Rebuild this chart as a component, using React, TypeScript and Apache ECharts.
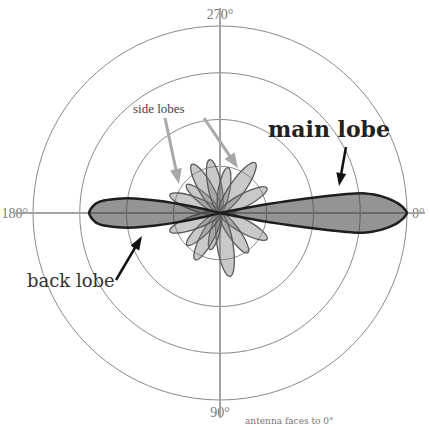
import React, { useEffect, useRef } from 'react';
import * as echarts from 'echarts';

// angle-axis tick values and their labels
const tickAngles = [0, 90, 180, 270];
const tickLabels = ['0°', '90°', '180°', '270°'];

// main lobe (faces 0°): angular offset from 0° -> radius (outer ring = 100)
const mainOffsets = [0, 1, 2, 3, 4, 5, 6, 7, 8, 8.5, 9, 9.5, 10, 10.5, 11, 11.5, 12];
const mainRadii = [100, 99, 97.5, 95.5, 93, 90, 86.5, 82, 76, 68.5, 58, 47, 37, 27, 17, 8, 0];

// back lobe (faces 180°): angular offset from 180° -> radius
const backOffsets = [0, 2, 4, 5, 6, 7, 8, 9, 10, 11, 12, 13, 14, 14.5];
const backRadii = [70, 69, 67, 65.5, 63, 59, 55, 50, 43, 35, 26, 16, 7, 0];

// side lobes: direction (deg) and length
const sideAngles = [200, 220, 240, 259, 280, 305, 332, 29, 55, 81, 105, 118, 136, 160];
const sideRadii = [28.5, 23.4, 30, 29, 24.6, 32.8, 28.4, 28.8, 26, 34.3, 20.3, 28.3, 24.6, 28.5];

function lobePoints(base: number, offsets: number[], radii: number[]) {
  const pts: number[][] = [];
  for (let i = offsets.length - 1; i >= 0; i--) pts.push([radii[i], (base - offsets[i] + 360) % 360]);
  for (let i = 1; i < offsets.length; i++) pts.push([radii[i], (base + offsets[i]) % 360]);
  return pts;
}

const mainPts = lobePoints(0, mainOffsets, mainRadii);
const backPts = lobePoints(180, backOffsets, backRadii);
const sideData = sideAngles.map((a, i) => [sideRadii[i], a]);

function arrow(x1: number, y1: number, x2: number, y2: number, color: string, w: number, hl: number, hw: number) {
  const ang = Math.atan2(y2 - y1, x2 - x1);
  const bx = x2 - hl * Math.cos(ang);
  const by = y2 - hl * Math.sin(ang);
  const px = (-Math.sin(ang) * hw) / 2;
  const py = (Math.cos(ang) * hw) / 2;
  return [
    { type: 'line', z: 10, shape: { x1, y1, x2: bx + (x2 - bx) * 0.3, y2: by + (y2 - by) * 0.3 }, style: { stroke: color, lineWidth: w } },
    { type: 'polygon', z: 10, shape: { points: [[x2, y2], [bx + px, by + py], [bx - px, by - py]] }, style: { fill: color } },
  ];
}

const CENTER = [220, 213];

export default function App() {
  const ref = useRef<HTMLDivElement>(null);
  useEffect(() => {
    const chart = echarts.init(ref.current!, null, { renderer: 'svg' });
    const lobeRender = (pts: number[][]) => (params: any, api: any) => {
      if (params.dataIndex !== 0) return null;
      return {
        type: 'polygon',
        shape: { points: pts.map((p) => api.coord(p)), smooth: 0.15 },
        style: { fill: 'rgba(60,60,60,0.55)', stroke: '#1e1e1e', lineWidth: 2.5 },
      };
    };
    chart.setOption({
      animation: false,
      backgroundColor: '#ffffff',
      polar: [
        { center: CENTER, radius: 187 },
        { center: CENTER, radius: 205 },
      ],
      angleAxis: [
        {
          polarIndex: 0,
          type: 'value',
          min: 0,
          max: 360,
          interval: 90,
          startAngle: 0,
          clockwise: true,
          axisLine: { show: false },
          axisTick: { show: false },
          splitLine: { show: false },
          axisLabel: {
            show: true,
            margin: 5,
            color: '#7a7a7a',
            fontFamily: '"Liberation Serif", serif',
            fontSize: 14,
            formatter: (v: number) => {
              const i = tickAngles.indexOf(v);
              return i >= 0 ? tickLabels[i] : '';
            },
          },
        },
        {
          polarIndex: 1,
          type: 'value',
          min: 0,
          max: 360,
          interval: 90,
          startAngle: 0,
          clockwise: true,
          axisLine: { show: false },
          axisTick: { show: false },
          axisLabel: { show: false },
          splitLine: { show: true, lineStyle: { color: '#a3a3a3', width: 2 } },
        },
      ],
      radiusAxis: [
        {
          polarIndex: 0,
          min: 0,
          max: 100,
          interval: 25,
          axisLine: { show: false },
          axisTick: { show: false },
          axisLabel: { show: false },
          splitLine: { show: true, lineStyle: { color: '#8a8a8a', width: 1 } },
        },
        {
          polarIndex: 1,
          min: 0,
          max: 100,
          axisLine: { show: false },
          axisTick: { show: false },
          axisLabel: { show: false },
          splitLine: { show: false },
        },
      ],
      series: [
        {
          type: 'custom',
          coordinateSystem: 'polar',
          polarIndex: 0,
          data: sideData,
          renderItem: (params: any, api: any) => {
            const r = api.value(0);
            const a = api.value(1);
            const o = api.coord([0, a]);
            const t = api.coord([r, a]);
            const dx = t[0] - o[0];
            const dy = t[1] - o[1];
            const len = Math.hypot(dx, dy);
            return {
              type: 'ellipse',
              x: (o[0] + t[0]) / 2,
              y: (o[1] + t[1]) / 2,
              rotation: -Math.atan2(dy, dx),
              shape: { cx: 0, cy: 0, rx: len / 2, ry: len * 0.125 },
              style: { fill: 'rgba(120,120,120,0.4)', stroke: '#5a5a5a', lineWidth: 1.3 },
            };
          },
        },
        {
          type: 'custom',
          coordinateSystem: 'polar',
          polarIndex: 0,
          data: backPts,
          renderItem: lobeRender(backPts),
        },
        {
          type: 'custom',
          coordinateSystem: 'polar',
          polarIndex: 0,
          data: mainPts,
          renderItem: lobeRender(mainPts),
        },
      ],
      graphic: [
        { type: 'text', z: 10, x: 133, y: 108, style: { text: 'side lobes', fill: '#444', font: '13px "Liberation Serif"', verticalAlign: 'middle' } },
        { type: 'text', z: 10, x: 268, y: 129, style: { text: 'main lobe', fill: '#222', font: 'bold 22px "DejaVu Serif"', verticalAlign: 'middle' } },
        { type: 'text', z: 10, x: 27, y: 280, style: { text: 'back lobe', fill: '#333', font: '18px "DejaVu Serif"', verticalAlign: 'middle' } },
        { type: 'text', z: 10, x: 245, y: 421, style: { text: 'antenna faces to 0°', fill: '#777', font: '9px "DejaVu Serif"', verticalAlign: 'middle' } },
        ...arrow(165, 118, 179, 184, '#a8a8a8', 3, 15, 12),
        ...arrow(204, 118, 238, 168, '#a8a8a8', 3, 15, 12),
        ...arrow(346, 147, 339, 186, '#111', 2.5, 13, 10),
        ...arrow(116, 280, 142, 236, '#111', 2.5, 14, 10),
      ],
    });
    return () => chart.dispose();
  }, []);
  return <div ref={ref} style={{ position: 'absolute', left: 0, top: 0, width: 430, height: 430 }} />;
}
